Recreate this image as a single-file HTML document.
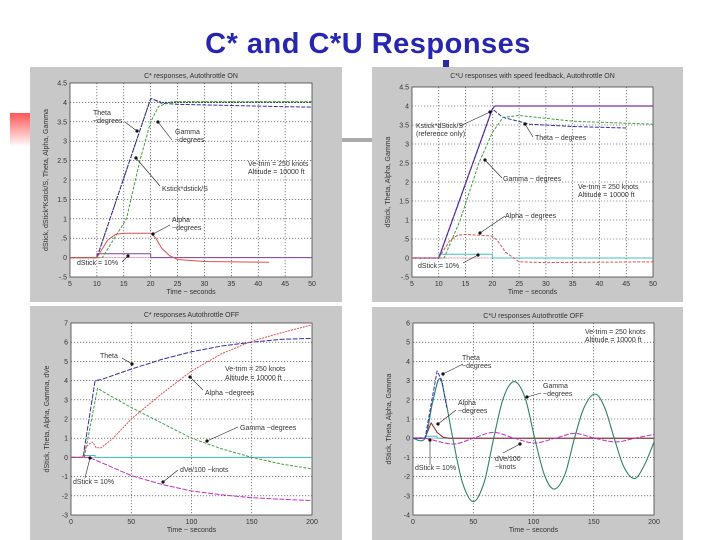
<!DOCTYPE html>
<html><head><meta charset="utf-8">
<style>
body{margin:0;background:#fff;}
#slide{position:relative;width:720px;height:540px;overflow:hidden;background:#fff;font-family:"Liberation Sans",sans-serif;}
#title{position:absolute;left:0;top:28px;width:736px;text-align:center;font-weight:bold;font-size:29px;color:#2626b0;letter-spacing:0.5px;}
svg text{font-family:"Liberation Sans",sans-serif;fill:#333;}
</style></head>
<body>
<div id="slide">
<div id="title">C* and C*U Responses</div>
<div style="position:absolute;left:10px;top:113px;width:22px;height:34px;background:linear-gradient(180deg,#f55 0%,#fcc 70%,#fff 100%);"></div>
<div style="position:absolute;left:342px;top:138px;width:32px;height:4px;background:#aaa;"></div>
<div style="position:absolute;left:443px;top:60px;width:6px;height:7px;background:#2a2aa8;"></div>
<div style="position:absolute;left:661px;top:515px;font-size:16px;color:#000;">13</div>
<svg id="charts" width="720" height="540" style="position:absolute;left:0;top:0"></svg>
</div>
<script>
// ---------- Panel 1 data: C* Autothrottle ON ----------
const p1Theta=[[5,0],[10,0],[20,4.1],[21,4.05],[22,3.98],[25,3.95],[35,3.92],[45,3.89],[50,3.88]];
const p1Kstick=[[5,0],[10,0],[20,4.1],[22,4.0],[50,4.0]];
const p1Gamma=[[5,0],[11,0],[15.5,1.0],[18,2.5],[20,3.5],[21.5,3.9],[24,4.02],[50,4.02]];
const p1Alpha=[[5,0],[10,0],[12,0.45],[13.5,0.6],[15,0.63],[20,0.63],[21,0.5],[22,0.25],[23.5,0.05],[25,-0.05],[30,-0.1],[42,-0.12]];
const p1Stick=[[5,0],[10,0],[10,0.1],[20,0.1],[20,0],[50,0]];
// ---------- Panel 2 data: C*U with speed feedback, AT ON ----------
const p2Kstick=[[5,0],[10,0],[20,3.92],[20.5,4.0],[50,4.0]];
const p2Theta=[[5,0],[10,0],[20,3.92],[22,3.7],[27,3.52],[35,3.46],[45,3.42]];
const p2Gamma=[[5,0],[11,0],[14,1.0],[17.5,2.5],[20,3.3],[22,3.7],[25,3.75],[35,3.6],[50,3.52]];
const p2Alpha=[[5,0],[10,0],[12,0.45],[13.5,0.6],[15,0.62],[20,0.58],[21,0.45],[22.5,0.15],[25,-0.1],[30,-0.12],[50,-0.1]];
const p2Stick=[[5,0],[10,0],[10,0.1],[20,0.1],[20,0],[50,0]];
// ---------- Panel 3 data: C* AT OFF ----------
const p3Theta=[[0,0],[10,0],[20,4.0],[25,4.05],[50,4.6],[75,5.1],[100,5.5],[125,5.8],[150,6.0],[175,6.15],[200,6.2]];
const p3Gamma=[[0,0],[11,0],[22,3.6],[30,3.3],[50,2.6],[75,1.8],[100,1.0],[125,0.45],[150,0],[175,-0.35],[200,-0.6]];
const p3Alpha=[[0,0],[10,0],[12,0.5],[15,0.7],[18,0.8],[21,0.5],[25,0.5],[35,1.0],[50,2.0],[75,3.3],[100,4.5],[125,5.4],[150,6.05],[175,6.5],[200,6.9]];
const p3Ve=[[0,0],[15,0],[30,-0.4],[50,-0.95],[75,-1.4],[100,-1.75],[125,-1.95],[150,-2.1],[175,-2.18],[200,-2.25]];
const p3Stick=[[0,0],[10,0],[10,0.1],[20,0.1],[20,0],[200,0]];
// ---------- Panel 4 data: C*U AT OFF ----------
const p4Gamma=[[0,0],[10,0],[16,1.8],[22,3.1],[27,2.0],[33,0],[41,-2.3],[50,-3.3],[59,-2.3],[67,0],[75,2.1],[84,2.95],[93,2.1],[101,0],[109,-1.9],[117,-2.65],[126,-1.9],[134,0],[142,1.6],[151,2.3],[159,1.6],[167,0],[175,-1.5],[184,-2.1],[192,-1.4],[200,-0.2]];
const p4Theta=[[0,0],[10,0],[20,3.5],[24,3.0],[28,1.6]];
const p4Alpha=[[0,0],[10,0],[15,0.8],[20,0.3],[25,0.05],[30,0],[200,0]];
const p4Ve=[[0,0],[10,0],[33,-0.3],[50,0],[67,0.3],[84,0],[101,-0.25],[118,0],[134,0.25],[151,0],[168,-0.2],[184,0],[200,0.2]];
const p4Stick=[[0,0],[10,0],[10,0.1],[20,0.1],[20,0],[200,0]];

const xTicks1=[5,10,15,20,25,30,35,40,45,50];
const yTicks1=[-0.5,0,0.5,1,1.5,2,2.5,3,3.5,4,4.5];
const xTicks2=[0,50,100,150,200];
const yTicks3=[-3,-2,-1,0,1,2,3,4,5,6,7];
const yTicks4=[-4,-3,-2,-1,0,1,2,3,4,5,6];

const NS='http://www.w3.org/2000/svg';
const root=document.getElementById('charts');
function mk(tag,attrs,parent){const e=document.createElementNS(NS,tag);for(const k in attrs)e.setAttribute(k,attrs[k]);(parent||root).appendChild(e);return e;}

function pathD(pts,smooth){
  if(!smooth) return pts.map((p,i)=>(i?'L':'M')+p[0].toFixed(1)+' '+p[1].toFixed(1)).join(' ');
  let d='M'+pts[0][0].toFixed(1)+' '+pts[0][1].toFixed(1);
  for(let i=0;i<pts.length-1;i++){
    const p0=pts[i-1]||pts[i],p1=pts[i],p2=pts[i+1],p3=pts[i+2]||p2;
    const c1=[p1[0]+(p2[0]-p0[0])/6,p1[1]+(p2[1]-p0[1])/6];
    const c2=[p2[0]-(p3[0]-p1[0])/6,p2[1]-(p3[1]-p1[1])/6];
    d+=' C'+c1[0].toFixed(1)+' '+c1[1].toFixed(1)+' '+c2[0].toFixed(1)+' '+c2[1].toFixed(1)+' '+p2[0].toFixed(1)+' '+p2[1].toFixed(1);
  }
  return d;
}

function panel(cfg){
  const g=mk('g',{});
  
  
  const bg=mk('rect',{x:cfg.bx,y:cfg.by,width:cfg.bw,height:cfg.bh,fill:'#c8c8c8'},g);
  
  
  const pl=mk('rect',{x:cfg.px,y:cfg.py,width:cfg.pw,height:cfg.ph,fill:'#fff',stroke:'#444','stroke-width':0.8},g);
  
  
  const sx=v=>cfg.px+(v-cfg.x0)/(cfg.x1-cfg.x0)*cfg.pw;
  const sy=v=>cfg.py+cfg.ph-(v-cfg.y0)/(cfg.y1-cfg.y0)*cfg.ph;
  cfg.xt.forEach(t=>{
    if(t>cfg.x0&&t<cfg.x1){const l=mk('line',{x1:sx(t),x2:sx(t),y1:cfg.py,y2:cfg.py+cfg.ph,stroke:'#333','stroke-width':0.6,'stroke-dasharray':'1.2 1.8'},g);
      
      }
    const tx=mk('text',{x:sx(t),y:cfg.py+cfg.ph+9,'font-size':7,'text-anchor':'middle'},g);
    tx.textContent=t;
    
    
  });
  cfg.yt.forEach(t=>{
    if(t>cfg.y0&&t<cfg.y1){const l=mk('line',{x1:cfg.px,x2:cfg.px+cfg.pw,y1:sy(t),y2:sy(t),stroke:'#333','stroke-width':0.6,'stroke-dasharray':'1.2 1.8'},g);
      
      }
    const tx=mk('text',{x:cfg.px-3,y:sy(t)+2.5,'font-size':7,'text-anchor':'end'},g);
    tx.textContent=String(t).replace(/^(-?)0\./,'$1.');
    
    
  });
  const tt=mk('text',{x:cfg.px+cfg.pw/2,y:cfg.by+11,'font-size':7,'text-anchor':'middle'},g);
  tt.textContent=cfg.title;
  
  
  const xl=mk('text',{x:cfg.px+cfg.pw/2,y:cfg.py+cfg.ph+17,'font-size':7,'text-anchor':'middle'},g);
  xl.textContent='Time ~ seconds';
  
  
  const yx=cfg.px-22, yy=cfg.py+cfg.ph/2;
  const yl=mk('text',{x:yx,y:yy,'font-size':7,'text-anchor':'middle',transform:`rotate(-90 ${yx} ${yy})`},g);
  yl.textContent=cfg.ylabel;
  
  
  const zl=mk('line',{x1:cfg.px,x2:cfg.px+cfg.pw,y1:sy(0),y2:sy(0),stroke:'#f0a0c0','stroke-width':0.8},g);
  
  
  cfg.series.forEach(s=>{
    const pts=s.data.map(p=>[sx(p[0]),sy(p[1])]);
    const p=mk('path',{d:pathD(pts,s.smooth),fill:'none',stroke:s.color,'stroke-width':s.w||1,'stroke-dasharray':s.dash||'none','stroke-linejoin':'round'},g);
    
    
  });
  cfg.labels.forEach(l=>{
    const tx=mk('text',{x:l[0],y:l[1],'font-size':7},g);
    tx.textContent=l[2];
    
    
  });
  cfg.arrows.forEach(a=>{
    const ln=mk('line',{x1:a[0],y1:a[1],x2:a[2],y2:a[3],stroke:'#222','stroke-width':0.6},g);
    
    
    const h=mk('circle',{cx:a[2],cy:a[3],r:1.6,fill:'#111'},g);
    
    
  });
}

panel({name:'chart-cstar-at-on',bx:30,by:67,bw:312,bh:235,px:70,py:83,pw:242,ph:194,x0:5,x1:50,y0:-0.5,y1:4.5,xt:xTicks1,yt:yTicks1,
 title:'C* responses, Autothrottle ON',ylabel:'dStick, dStick*Kstick/S, Theta, Alpha, Gamma',
 series:[{name:'zero-series',data:p1Stick,color:'#8040a0'},{name:'kstick-series',data:p1Kstick,color:'#111',dash:'1.5 1.5'},{name:'theta-series',data:p1Theta,color:'#3030a0',dash:'4 1.5'},{name:'gamma-series',data:p1Gamma,color:'#40a040',dash:'3 1.5'},{name:'alpha-series',data:p1Alpha,color:'#e05050'}],
 labels:[[93,115,'Theta'],[93,123,'~degrees'],[175,134,'Gamma'],[175,142,'~degrees'],[162,191,'Kstick*dstick/S'],[248,166,'Ve-trim = 250 knots'],[248,174,'Altitude = 10000 ft'],[172,222,'Alpha'],[172,230,'~degrees'],[77,265,'dStick = 10%']],
 arrows:[[125,122,137,131],[172,140,158,122],[160,186,136,158],[170,225,153,234],[122,262,128,256]]});

panel({name:'chart-cstaru-at-on',bx:372,by:67,bw:311,bh:235,px:412,py:87,pw:241,ph:190,x0:5,x1:50,y0:-0.5,y1:4.5,xt:xTicks1,yt:yTicks1,
 title:'C*U responses with speed feedback, Autothrottle ON',ylabel:'dStick, Theta, Alpha, Gamma',
 series:[{name:'zero-series',data:p2Stick,color:'#40c0c0'},{name:'kstick-series',data:p2Kstick,color:'#8030a0',w:1.2},{name:'theta-series',data:p2Theta,color:'#3030a0',dash:'4 1.5'},{name:'gamma-series',data:p2Gamma,color:'#40a040',dash:'3 1.5'},{name:'alpha-series',data:p2Alpha,color:'#e05050',dash:'3 1.5'}],
 labels:[[416,128,'Kstick*dStick/S'],[416,136,'(reference only)'],[535,140,'Theta ~ degrees'],[503,181,'Gamma ~ degrees'],[578,189,'Ve-trim = 250 knots'],[578,197,'Altitude = 10000 ft'],[505,218,'Alpha ~ degrees'],[418,268,'dStick = 10%']],
 arrows:[[460,126,490,112],[533,137,525,124],[502,178,485,160],[505,216,480,233],[463,263,478,255]]});

panel({name:'chart-cstar-at-off',bx:30,by:306,bw:312,bh:234,px:71,py:323,pw:241,ph:192,x0:0,x1:200,y0:-3,y1:7,xt:xTicks2,yt:yTicks3,
 title:'C* responses Autothrottle OFF',ylabel:'dStick, Theta, Alpha, Gamma, dVe',
 series:[{name:'zero-series',data:p3Stick,color:'#40c0c0'},{name:'theta-series',data:p3Theta,color:'#3030a0',dash:'5 1.5'},{name:'gamma-series',data:p3Gamma,color:'#40a040',dash:'3 1.5'},{name:'alpha-series',data:p3Alpha,color:'#e05050',dash:'2 1'},{name:'dve-series',data:p3Ve,color:'#c030c0',dash:'5 1.5'}],
 labels:[[100,358,'Theta'],[225,371,'Ve-trim = 250 knots'],[225,380,'Altitude = 10000 ft'],[205,395,'Alpha ~degrees'],[240,430,'Gamma ~degrees'],[180,472,'dVe/100 ~knots'],[73,484,'dStick = 10%']],
 arrows:[[122,358,132,364],[203,390,190,377],[238,427,207,441],[178,470,163,482],[85,478,90,458]]});

panel({name:'chart-cstaru-at-off',bx:372,by:307,bw:311,bh:233,px:413,py:323,pw:241,ph:192,x0:0,x1:200,y0:-4,y1:6,xt:xTicks2,yt:yTicks4,
 title:'C*U responses Autothrottle OFF',ylabel:'dStick, Theta, Alpha, Gamma',
 series:[{name:'zero-series',data:p4Stick,color:'#40c0c0'},{name:'alpha-series',data:p4Alpha,color:'#a02020'},{name:'dve-series',data:p4Ve,color:'#c030c0',dash:'5 1.5',smooth:true},{name:'gamma-series',data:p4Gamma,color:'#30806a',w:1.1,smooth:true},{name:'theta-series',data:p4Theta,color:'#3030c0',dash:'4 1.5'}],
 labels:[[585,334,'Ve-trim = 250 knots'],[585,342,'Altitude = 10000 ft'],[462,360,'Theta'],[462,368,'~degrees'],[543,388,'Gamma'],[543,396,'~degrees'],[458,405,'Alpha'],[458,413,'~degrees'],[415,470,'dStick = 10%'],[495,461,'dVe/100'],[495,469,'~knots']],
 arrows:[[463,364,443,374],[541,393,527,397],[456,410,438,424],[430,465,430,440],[503,453,520,444]]});
</script>
</body></html>
